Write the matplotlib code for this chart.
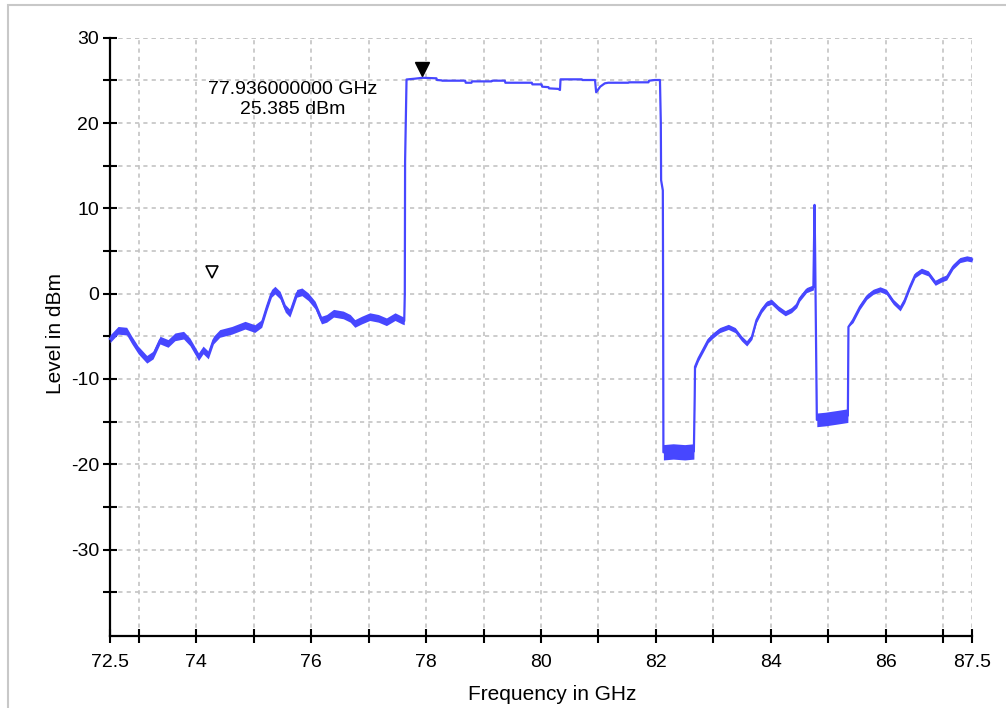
import matplotlib
matplotlib.use("Agg")
import matplotlib.pyplot as plt
from matplotlib.patches import Rectangle
import numpy as np

plt.rcParams['font.family'] = ['Liberation Sans', 'DejaVu Sans']

# ---- data ----
freq_ghz = [
    # low band before the plateau
    72.50, 72.64, 72.79, 72.88, 72.99, 73.14, 73.25, 73.37, 73.51, 73.63,
    73.78, 73.89, 74.04, 74.12, 74.21, 74.30, 74.41, 74.62, 74.85, 75.02,
    75.14, 75.23, 75.31, 75.37, 75.46, 75.55, 75.63, 75.69, 75.75, 75.84,
    75.95, 76.07, 76.18, 76.27, 76.39, 76.56, 76.68, 76.76, 76.88, 77.02,
    77.17, 77.31, 77.46, 77.58, 77.62,
    # rising edge and plateau
    77.63, 77.635, 77.66, 77.81, 77.936, 78.18, 78.19, 78.27, 78.28, 78.68,
    78.69, 78.79, 78.80, 79.14, 79.15, 79.37, 79.38, 79.84, 79.85, 80.01,
    80.02, 80.13, 80.14, 80.30, 80.33, 80.34, 80.71, 80.72, 80.94, 80.96,
    81.03, 81.11, 81.17, 81.52, 81.53, 81.87, 81.88, 81.98, 82.07,
    # falling edge and first floor
    82.085, 82.09, 82.12, 82.125, 82.13, 82.30, 82.50, 82.66,
    # recovery
    82.675, 82.68, 82.74, 82.82, 82.91, 83.00, 83.11, 83.26, 83.38, 83.49,
    83.58, 83.67, 83.75, 83.84, 83.93, 84.01, 84.13, 84.25, 84.36, 84.45,
    84.50, 84.62, 84.74,
    # spike and second floor
    84.76, 84.77, 84.79, 84.80, 84.95, 85.15, 85.34,
    # recovery to the end
    85.35, 85.43, 85.55, 85.67, 85.78, 85.90, 86.01, 86.13, 86.25, 86.33,
    86.42, 86.51, 86.62, 86.74, 86.86, 86.97, 87.06, 87.17, 87.29, 87.41,
    87.50,
]
level_dbm = [
    -5.3, -4.3, -4.4, -5.45, -6.6, -7.7, -7.2, -5.45, -5.84, -5.07,
    -4.87, -5.65, -7.4, -6.6, -7.2, -5.45, -4.67, -4.3, -3.7, -4.1,
    -3.5, -1.55, 0.03, 0.41, -0.18, -1.73, -2.3, -1.15, 0.03, 0.21,
    -0.37, -1.35, -3.1, -2.9, -2.3, -2.5, -2.9, -3.5, -3.1, -2.7,
    -2.9, -3.3, -2.7, -3.1, -3.2,
    0.0, 15.5, 25.1, 25.2, 25.3, 25.24, 25.04, 25.0, 24.96, 24.96,
    24.72, 24.72, 24.88, 24.88, 24.96, 24.96, 24.72, 24.72, 24.53, 24.53,
    24.26, 24.2, 24.06, 24.0, 23.87, 25.12, 25.12, 25.04, 25.04, 23.6,
    24.26, 24.65, 24.72, 24.72, 24.77, 24.77, 24.96, 25.04, 25.04,
    20.0, 13.3, 12.1, 0.0, -18.6, -18.5, -18.6, -18.5,
    -12.0, -8.58, -7.6, -6.6, -5.45, -4.87, -4.28, -3.9, -4.28, -5.25,
    -5.84, -5.07, -3.1, -1.93, -1.15, -0.96, -1.73, -2.3, -1.93, -1.35,
    -0.6, 0.41, 0.73,
    10.4, 5.0, -8.0, -14.8, -14.7, -14.5, -14.3,
    -3.9, -3.1, -1.55, -0.37, 0.21, 0.5, 0.21, -0.96, -1.73, -0.76,
    0.8, 2.17, 2.68, 2.37, 1.27, 1.66, 1.9, 3.15, 3.93, 4.13,
    4.0,
]
# half-width of the noise band around the trace (dB)
noise_db = (
    [0.45] * 45
    + [0.0] * 39
    + [0.0, 0.0, 0.0, 0.0, 0.9, 0.9, 0.9, 0.9]
    + [0.0] + [0.3] * 22
    + [0.0, 0.0, 0.0, 0.8, 0.8, 0.8, 0.8]
    + [0.0] + [0.3] * 20
)

marker1_freq = 77.936
marker1_level = 25.385
marker2_freq = 74.27
marker2_level = 2.5
marker_label = "77.936000000 GHz\n25.385 dBm"

x_ticks = [72.5] + list(range(73, 88)) + [87.5]
x_labels = {72.5: "72.5", 74: "74", 76: "76", 78: "78", 80: "80",
            82: "82", 84: "84", 86: "86", 87.5: "87.5"}
y_ticks = list(range(-35, 31, 5))
y_labels = {-30: "-30", -20: "-20", -10: "-10", 0: "0", 10: "10", 20: "20", 30: "30"}

# ---- figure ----
W, H = 1006, 708
fig = plt.figure(figsize=(W / 100, H / 100), dpi=100)
fig.patch.set_facecolor("white")
fig.add_artist(Rectangle((8 / W, -0.05), 1.2, (H - 5) / H + 0.05,
                         transform=fig.transFigure, fill=False,
                         edgecolor="#c8c8c8", linewidth=1.5))

ax = fig.add_axes([110 / W, 72.3 / H, (972 - 110) / W, (635.7 - 37.7) / H])
ax.set_xlim(72.5, 87.5)
ax.set_ylim(-40.1, 30)

blue = "#4747ff"
f = np.array(freq_ghz)
lv = np.array(level_dbm)
nz = np.array(noise_db)
ax.fill_between(f, lv - nz, lv + nz, color=blue, linewidth=0, zorder=3)
ax.plot(f, lv, color=blue, linewidth=1.6, zorder=4, clip_on=False)

# markers
ax.plot([marker1_freq], [marker1_level + 1.0], marker="v", markersize=10,
        color="black", zorder=5, linestyle="none")
ax.plot([marker2_freq], [marker2_level], marker="v", markersize=9,
        markerfacecolor="white", markeredgecolor="black", markeredgewidth=1.2,
        zorder=5, linestyle="none")
ax.text(75.68, 22.75, marker_label, ha="center", va="center", fontsize=14,
        linespacing=1.2)

# grid
for xv in x_ticks:
    if xv != 72.5:
        ax.axvline(xv, color="#c4c4c4", linewidth=1.2, linestyle=(0, (2.5, 2.5)), zorder=1)
for yv in y_ticks + [30]:
    ax.axhline(yv, color="#c4c4c4", linewidth=1.2, linestyle=(0, (2.5, 2.5)), zorder=1)

ax.set_xticks(x_ticks)
ax.set_xticklabels([x_labels.get(t, "") for t in x_ticks])
ax.set_yticks(y_ticks)
ax.set_yticklabels([y_labels.get(t, "") for t in y_ticks])
ax.tick_params(axis="both", direction="inout", length=10, width=1.5,
               labelsize=14, color="black")
ax.tick_params(axis="x", pad=8)
ax.tick_params(axis="y", pad=3)

for side in ("top", "right"):
    ax.spines[side].set_visible(False)
for side in ("left", "bottom"):
    ax.spines[side].set_linewidth(1.6)

ax.set_xlabel("Frequency in GHz", fontsize=15)
ax.set_ylabel("Level in dBm", fontsize=15)
ax.xaxis.set_label_coords(0.513, -0.083)
ax.yaxis.set_label_coords(-0.052, 0.505)

fig.savefig("out.png", dpi=100)
